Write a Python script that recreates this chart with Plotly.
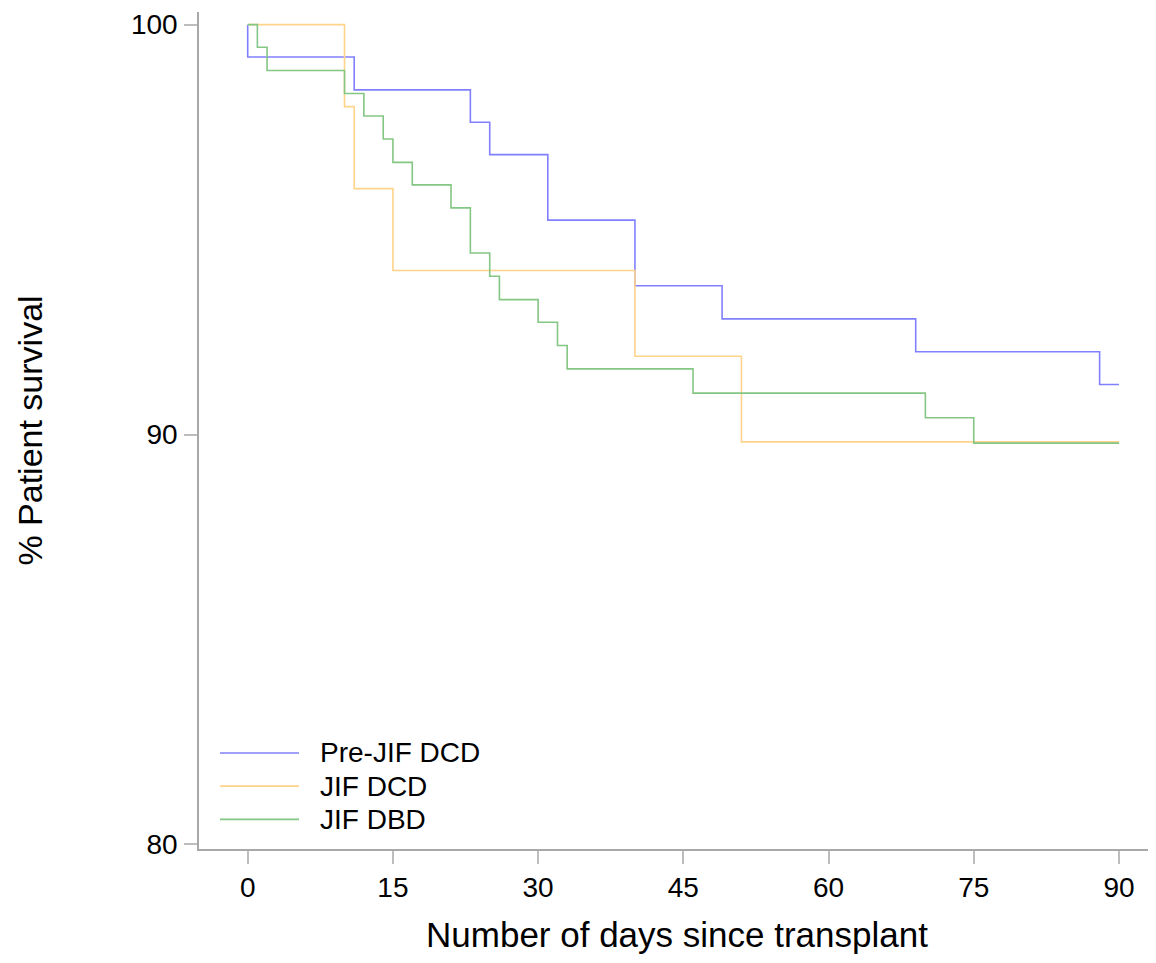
import plotly.graph_objects as go

# ---- data ----
series_names = ["Pre-JIF DCD", "JIF DCD", "JIF DBD"]

pre_dcd_days = [0, 0, 11, 23, 25, 31, 40, 49, 69, 88, 90]
pre_dcd_surv = [100, 99.21, 98.41, 97.62, 96.83, 95.23, 93.63, 92.82, 92.02, 91.22, 91.22]

jif_dcd_days = [0, 10, 11, 15, 40, 51, 90]
jif_dcd_surv = [100, 98.0, 96.0, 94.0, 91.91, 89.82, 89.82]

jif_dbd_days = [0, 1, 2, 10, 12, 14, 15, 17, 21, 23, 25, 26, 30, 32, 33, 46, 70, 75, 90]
jif_dbd_surv = [100, 99.45, 98.88, 98.32, 97.77, 97.21, 96.64, 96.09, 95.53, 94.43,
                93.86, 93.29, 92.74, 92.17, 91.60, 91.01, 90.41, 89.79, 89.79]

x_ticks = [0, 15, 30, 45, 60, 75, 90]
y_ticks = [80, 90, 100]

colors = ["#8080FF", "#FFD48A", "#84C684"]

# the page body has an 8px margin, so the figure is offset by 8px
OFF = 8
W, H = 1156 - OFF, 963 - OFF
ML, MR, MT, MB = 199 - OFF, 1, 10 - OFF, 114
PW, PH = W - ML - MR, H - MT - MB

FONT = "Liberation Sans, Arial, sans-serif"

fig = go.Figure()
for name, xs, ys, c in zip(series_names,
                           [pre_dcd_days, jif_dcd_days, jif_dbd_days],
                           [pre_dcd_surv, jif_dcd_surv, jif_dbd_surv],
                           colors):
    fig.add_trace(go.Scatter(x=xs, y=ys, mode="lines", name=name,
                             line=dict(color=c, width=1.6, shape="hv"),
                             showlegend=False))

# custom legend (long line samples like the reference); positions in page pixels
leg_y_px = [752.7, 786.0, 819.3]
for name, c, ypx in zip(series_names, colors, leg_y_px):
    yp = (H - MB - (ypx - OFF)) / PH
    fig.add_shape(type="line", xref="paper", yref="paper",
                  x0=(220 - 199) / PW, x1=(299 - 199) / PW, y0=yp, y1=yp,
                  line=dict(color=c, width=1.6))
    fig.add_annotation(xref="paper", yref="paper", x=(318 - 199) / PW, y=yp,
                       text=name, showarrow=False, xanchor="left", yanchor="middle",
                       font=dict(family=FONT, size=28, color="black"))

axis_common = dict(showline=True, linecolor="#A8A8A8", linewidth=1.5,
                   ticks="outside", ticklen=13, tickwidth=1.5, tickcolor="#BDBDBD",
                   showgrid=False, zeroline=False, ticklabeloverflow="allow",
                   tickfont=dict(family=FONT, size=28, color="black"))

fig.update_layout(
    width=W, height=H,
    margin=dict(l=ML, r=MR, t=MT, b=MB, pad=0),
    paper_bgcolor="white", plot_bgcolor="white",
    xaxis=dict(range=[-5.03, 93.72], tickvals=x_ticks, ticktext=[str(v) for v in x_ticks],
               title=dict(text="Number of days since transplant", standoff=20,
                          font=dict(family=FONT, size=35, color="black")),
               **axis_common),
    yaxis=dict(range=[79.886, 100.309], tickvals=y_ticks, ticktext=[str(v) for v in y_ticks],
               ticklabelstandoff=1,
               title=dict(text="% Patient survival", standoff=78,
                          font=dict(family=FONT, size=34, color="black")),
               **axis_common),
)

fig.write_html("out.html")
